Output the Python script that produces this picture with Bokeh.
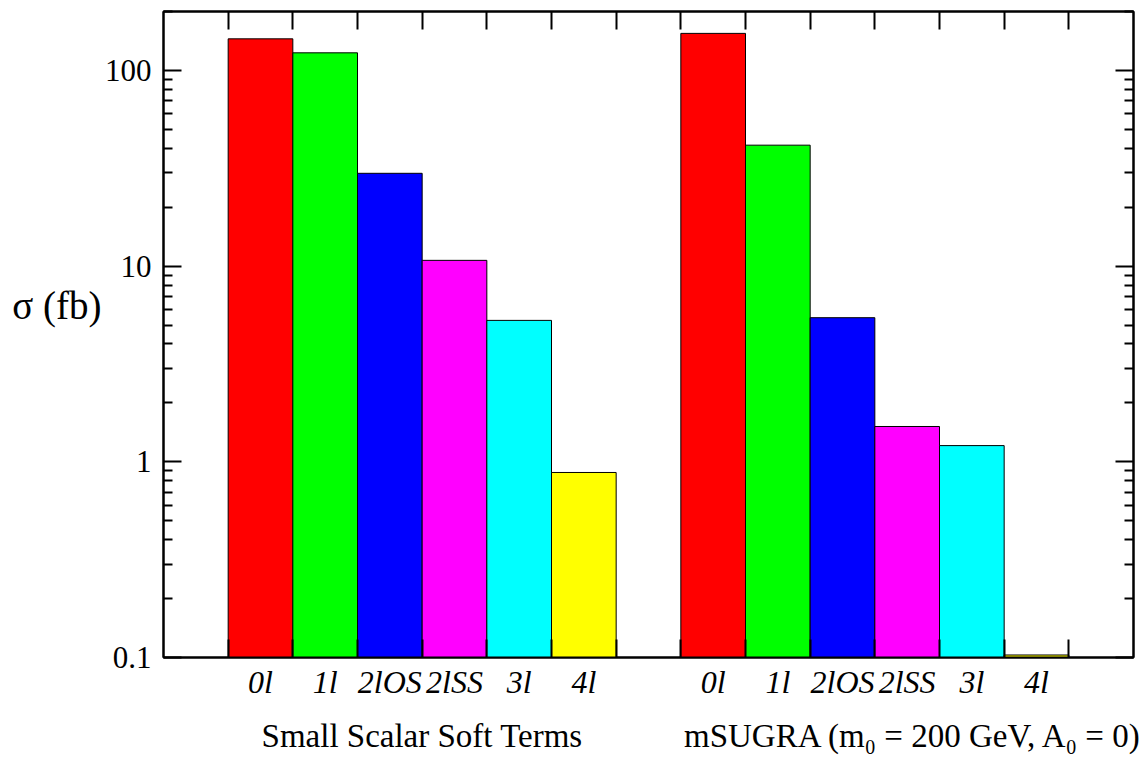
from bokeh.plotting import figure
from bokeh.models import (FixedTicker, LinearAxis, LogAxis, Range1d,
                          ColumnDataSource)
from bokeh.embed import file_html
from bokeh.resources import INLINE

# ---- data ----
channels = ["0l", "1l", "2lOS", "2lSS", "3l", "4l"]
colors = ["#ff0000", "#00ff00", "#0000ff", "#ff00ff", "#00ffff", "#ffff00"]
small_scalar = [145.0, 123.0, 29.8, 10.7, 5.28, 0.882]
msugra = [154.6, 41.5, 5.45, 1.515, 1.21, 0.103]
group_names = ["Small Scalar Soft Terms", "mSUGRA (m\u2080 = 200 GeV, A\u2080 = 0)"]
y_ticks = [0.1, 1, 10, 100]
y_tick_labels = ["0.1", "1", "10", "100"]
y_label = "\u03c3 (fb)"

FONT = "Liberation Serif"
Y_MIN, Y_MAX = 0.1, 200.0

# bar positions: group 1 occupies x in [1,7], group 2 in [8,14]
starts = [1, 8]
left, right, top, fill, centers, names = [], [], [], [], [], []
for g, vals in enumerate([small_scalar, msugra]):
    for i, v in enumerate(vals):
        left.append(starts[g] + i)
        right.append(starts[g] + i + 1)
        top.append(v)
        fill.append(colors[i])
        centers.append(starts[g] + i + 0.5)
        names.append(channels[i])

src = ColumnDataSource(dict(left=left, right=right, top=top,
                            bottom=[Y_MIN] * len(top), fill=fill))

p = figure(width=1147, height=757, y_axis_type="log",
           x_range=Range1d(0, 15), y_range=Range1d(Y_MIN, Y_MAX),
           output_backend="svg", toolbar_location=None,
           min_border_left=163, min_border_right=14,
           min_border_top=11, min_border_bottom=100)
p.grid.visible = False
p.outline_line_color = "black"
p.outline_line_width = 2
p.background_fill_color = "white"
p.border_fill_color = "white"

p.quad(left="left", right="right", top="top", bottom="bottom",
       fill_color="fill", line_color="black", line_width=1, source=src)

# y axes
minor = []
for d in [0.1, 1, 10, 100]:
    for k in range(2, 10):
        if d * k <= Y_MAX:
            minor.append(d * k)
yt = FixedTicker(ticks=y_ticks, minor_ticks=minor)

ya = p.yaxis[0]
ya.ticker = yt
ya.major_label_overrides = {t: l for t, l in zip(y_ticks, y_tick_labels)}
ya.major_tick_in = 18
ya.major_tick_out = 0
ya.minor_tick_in = 9
ya.minor_tick_out = 0
ya.axis_line_width = 2
ya.major_tick_line_width = 2
ya.minor_tick_line_width = 2
ya.major_label_text_font = FONT
ya.major_label_text_font_size = "31px"
ya.major_label_text_color = "black"
ya.major_label_standoff = 12

# horizontal y-axis title drawn as a single-tick axis label
label_pos = 6.3
ylab = LogAxis(ticker=FixedTicker(ticks=[label_pos], minor_ticks=[]),
               major_label_overrides={label_pos: y_label},
               major_tick_in=0, major_tick_out=0, axis_line_color=None,
               major_label_text_font=FONT, major_label_text_font_size="39px",
               major_label_text_color="black", major_label_standoff=0)
p.add_layout(ylab, "left")

yr = LogAxis(ticker=yt, major_label_overrides={t: "" for t in y_ticks},
             major_tick_in=18, major_tick_out=0, minor_tick_in=9,
             minor_tick_out=0, axis_line_width=2, major_tick_line_width=2,
             minor_tick_line_width=2, major_label_standoff=0)
p.add_layout(yr, "right")

# x axes
xa = p.xaxis[0]
xa.ticker = FixedTicker(ticks=centers, minor_ticks=list(range(1, 15)))
xa.major_label_overrides = {c: n for c, n in zip(centers, names)}
xa.major_tick_in = 0
xa.major_tick_out = 0
xa.minor_tick_in = 18
xa.minor_tick_out = 0
xa.minor_tick_line_width = 2
xa.axis_line_width = 2
xa.major_label_text_font = FONT
xa.major_label_text_font_style = "italic"
xa.major_label_text_font_size = "32px"
xa.major_label_text_color = "black"
xa.major_label_standoff = 6

group_centers = [4, 11.6]
xg = LinearAxis(ticker=FixedTicker(ticks=group_centers, minor_ticks=[]),
                major_label_overrides={c: n for c, n in zip(group_centers, group_names)},
                major_tick_in=0, major_tick_out=0, axis_line_color=None,
                major_label_text_font=FONT, major_label_text_font_size="33px",
                major_label_text_color="black", major_label_standoff=15)
p.add_layout(xg, "below")

top_ticks = list(range(1, 15))
xt = LinearAxis(ticker=FixedTicker(ticks=top_ticks, minor_ticks=[]),
                major_label_overrides={t: "" for t in top_ticks},
                major_tick_in=18, major_tick_out=0, axis_line_width=2,
                major_tick_line_width=2, major_label_standoff=0)
p.add_layout(xt, "above")

open("out.html", "w").write(file_html(p, INLINE))
